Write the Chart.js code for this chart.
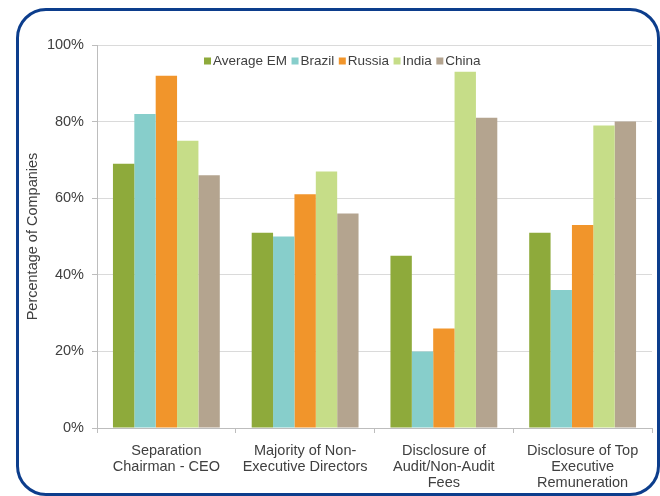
<!DOCTYPE html>
<html>
<head>
<meta charset="utf-8">
<script src="https://cdn.jsdelivr.net/npm/chart.js@4/dist/chart.umd.min.js"></script>
<style>
  html, body { margin: 0; padding: 0; background: #ffffff; }
  #wrap { position: relative; width: 660px; height: 496px; overflow: hidden; background: #ffffff; }
  #frame {
    position: absolute; left: 16px; top: 8px; width: 644px; height: 488px;
    box-sizing: border-box; border: 3px solid #0c3d8c; border-radius: 30px;
    pointer-events: none;
  }
  canvas { position: absolute; left: 0; top: 0; }
</style>
</head>
<body>
<div id="wrap">
  <canvas id="chart" width="660" height="496"></canvas>
  <div id="frame"></div>
</div>
<script>
// Governance practices, share of companies (%)
const categories = [
  ['Separation', 'Chairman - CEO'],
  ['Majority of Non-', 'Executive Directors'],
  ['Disclosure of', 'Audit/Non-Audit', 'Fees'],
  ['Disclosure of Top', 'Executive', 'Remuneration']
];
const seriesNames = ['Average EM', 'Brazil', 'Russia', 'India', 'China'];
const averageEM = [69, 51, 45, 51];
const brazil    = [82, 50, 20, 36];
const russia    = [92, 61, 26, 53];
const india     = [75, 67, 93, 79];
const china     = [66, 56, 81, 80];
const seriesColors = ['#8eaa3b', '#87cecb', '#f1952b', '#c6dd88', '#b4a48f'];
const yTicks = [0, 20, 40, 60, 80, 100];

const FONT = '"Liberation Sans", Arial, sans-serif';
const TEXT = '#404040';

const seriesValues = [averageEM, brazil, russia, india, china];

// Legend drawn inside the plot area, near the top
const innerLegend = {
  id: 'innerLegend',
  afterDraw(chart) {
    const ctx = chart.ctx;
    const area = chart.chartArea;
    const box = 7, gapText = 2, gapItem = 4.5;
    let x = area.left + 107;
    const y = area.top + 16;
    ctx.save();
    ctx.font = '13.5px ' + FONT;
    ctx.textBaseline = 'middle';
    ctx.textAlign = 'left';
    chart.data.datasets.forEach(ds => {
      ctx.fillStyle = ds.backgroundColor;
      ctx.fillRect(x, y - box / 2, box, box);
      x += box + gapText;
      ctx.fillStyle = TEXT;
      ctx.fillText(ds.label, x, y);
      x += ctx.measureText(ds.label).width + gapItem;
    });
    ctx.restore();
  }
};

new Chart(document.getElementById('chart'), {
  type: 'bar',
  data: {
    labels: categories,
    datasets: seriesNames.map((name, i) => ({
      label: name,
      data: seriesValues[i],
      backgroundColor: seriesColors[i],
      borderWidth: 0,
      categoryPercentage: 0.77,
      barPercentage: 1.0
    }))
  },
  options: {
    responsive: false,
    animation: false,
    devicePixelRatio: 1,
    layout: { padding: { left: 18, right: 8, top: 45, bottom: 0 } },
    plugins: {
      legend: { display: false },
      tooltip: { enabled: false }
    },
    scales: {
      x: {
        grid: {
          display: true, drawOnChartArea: false, drawTicks: true,
          tickLength: 5, color: '#bdbdbd', offset: true
        },
        border: { color: '#bdbdbd', width: 1 },
        ticks: {
          color: TEXT, font: { family: FONT, size: 14.5, lineHeight: 1.1 },
          padding: 10.5, maxRotation: 0, autoSkip: false
        },
        afterFit: s => { s.height = 68; }
      },
      y: {
        min: 0, max: 100,
        afterBuildTicks: s => { s.ticks = yTicks.map(v => ({ value: v })); },
        grid: { color: '#dadada', tickLength: 5, drawTicks: true, tickColor: '#bdbdbd' },
        border: { color: '#bdbdbd', width: 1 },
        ticks: {
          color: TEXT, font: { family: FONT, size: 14.5 },
          padding: 8, callback: v => v + '%'
        },
        title: {
          display: true, text: 'Percentage of Companies',
          color: TEXT, font: { family: FONT, size: 14.5 },
          padding: { top: 6, bottom: 4 }
        },
        afterFit: s => { s.width = 79; }
      }
    }
  },
  plugins: [innerLegend]
});
</script>
</body>
</html>
